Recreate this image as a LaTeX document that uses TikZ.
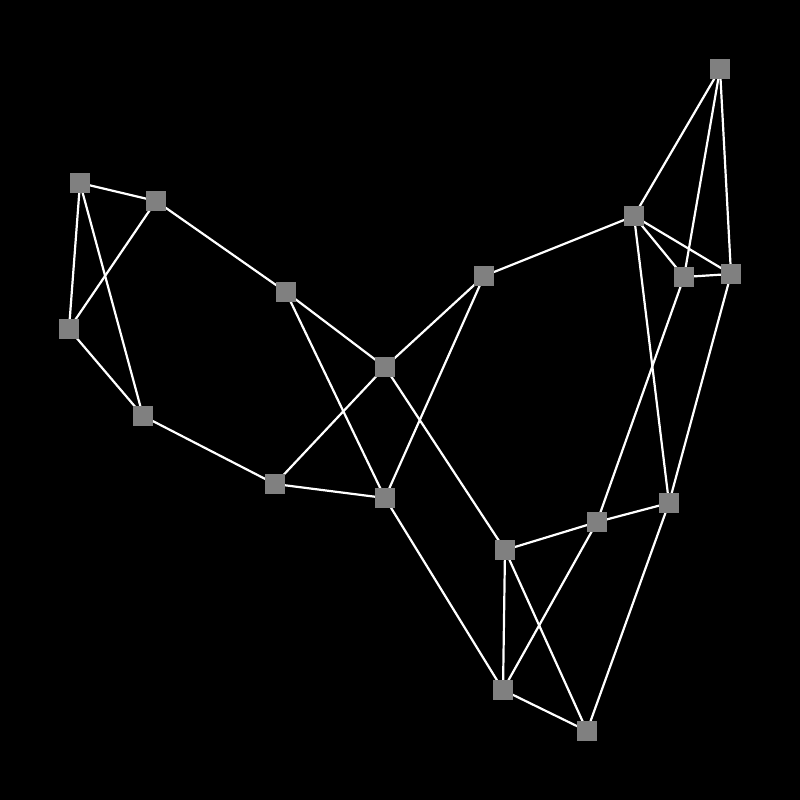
\documentclass[tikz,border=0pt]{standalone}
\usetikzlibrary{backgrounds}
\definecolor{vgray}{RGB}{128,128,128}
\begin{document}
\begin{tikzpicture}[x=1pt,y=-1pt,
  vert/.style={rectangle,fill=vgray,minimum size=20pt,inner sep=0pt},
  edge/.style={white,line width=2.2pt}]
\node[vert] (A) at (80,183) {};
\node[vert] (B) at (156,201) {};
\node[vert] (C) at (69,329) {};
\node[vert] (D) at (143,416) {};
\node[vert] (E) at (286,292) {};
\node[vert] (F) at (275,484) {};
\node[vert] (G) at (385,367) {};
\node[vert] (H) at (385,498) {};
\node[vert] (I) at (484,276) {};
\node[vert] (J) at (634,216) {};
\node[vert] (K) at (720,69) {};
\node[vert] (L) at (684,277) {};
\node[vert] (M) at (731,274) {};
\node[vert] (N) at (505,550) {};
\node[vert] (O) at (597,522) {};
\node[vert] (P) at (669,503) {};
\node[vert] (Q) at (503,690) {};
\node[vert] (R) at (587,731) {};
\begin{scope}[on background layer]
\fill[black] (0,0) rectangle (800,800);
\foreach \a/\b in {A/B,A/C,A/D,B/C,B/E,C/D,D/F,E/G,E/H,F/G,F/H,G/I,G/N,H/I,H/Q,I/J,J/K,J/L,J/M,J/P,K/L,K/M,L/M,L/O,M/P,N/O,O/P,N/Q,N/R,O/Q,Q/R,P/R}
  \draw[edge] (\a.center) -- (\b.center);
\end{scope}
\useasboundingbox (0,0) rectangle (800,800);
\end{tikzpicture}
\end{document}
